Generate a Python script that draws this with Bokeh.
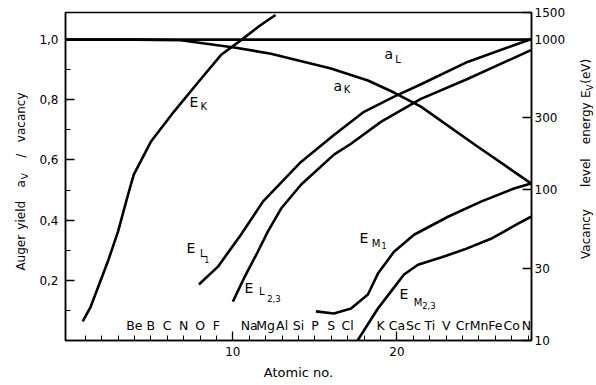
import math
from bokeh.plotting import figure
from bokeh.layouts import row
from bokeh.models import (Range1d, LogScale, LogAxis, FixedTicker, CustomJSTickFormatter,
                          ColumnDataSource)
from bokeh.core.properties import value
from bokeh.embed import file_html
from bokeh.resources import INLINE

FONT = "DejaVu Sans"
INK = "#000000"

# ---- data ----
# K-level energy (eV, right axis) vs atomic number
ek_z = [0.85, 1.34, 2.38, 3.0, 3.66, 3.96, 5.0, 6.4, 8.05, 9.27, 10.5, 11.7, 12.6]
ek_ev = [13.4, 16.8, 33.4, 52.7, 97, 126, 208, 329, 543, 783, 984, 1240, 1443]

# L1 level energy
el1_z = [7.93, 9.09, 10.49, 11.83, 14.15, 16.16, 17.99, 19.8, 21.5, 24.3, 28.2]
el1_ev = [23.5, 30.9, 50.3, 83.4, 153, 231, 329, 413, 503, 705, 1000]

# L2,3 level energy
el23_z = [10.0, 10.67, 11.52, 12.13, 12.93, 14.15, 16.16, 17.2, 19.02, 21.46, 24.3, 28.17]
el23_ev = [18.1, 25.8, 38.8, 52.7, 74.8, 108, 171, 202, 282, 401, 543, 845]

# M1 level energy
em1_z = [15.06, 16.16, 17.2, 18.23, 18.84, 19.82, 21.04, 23.11, 25.12, 27.13, 28.17]
em1_ev = [15.6, 15.1, 16.3, 20.2, 27.8, 38.8, 50.3, 66.2, 83.4, 102, 110]

# M2,3 level energy
em23_z = [17.6, 18.84, 19.63, 20.43, 21.28, 22.68, 24.09, 25.73, 27.38, 28.17]
em23_ev = [10.0, 16.3, 21.1, 27.4, 31.8, 35.5, 40.1, 47.3, 59.6, 66.2]

# Auger yields (left axis)
ak_z = [-0.2, 4.0, 6.83, 10.18, 12.32, 15.98, 18.23, 19.82, 21.46, 24.82, 28.17]
ak_y = [1.0, 1.0, 0.998, 0.973, 0.953, 0.904, 0.864, 0.824, 0.777, 0.648, 0.522]
al_z = [-0.2, 28.2]
al_y = [1.0, 1.0]

# element symbols along the bottom
el_sym = ["Be", "B", "C", "N", "O", "F", "Na", "Mg", "Al", "Si", "P", "S", "Cl",
          "K", "Ca", "Sc", "Ti", "V", "Cr", "Mn", "Fe", "Co", "Ni"]
el_z = [4, 5, 6, 7, 8, 9, 11, 12, 13, 14, 15, 16, 17,
        19, 20, 21, 22, 23, 24, 25, 26, 27, 28]

left_ticks = [0.2, 0.4, 0.6, 0.8, 1.0]
left_minor = [0.1, 0.3, 0.5, 0.7, 0.9]
right_ticks = [10, 30, 100, 300, 1000, 1500]
x_ticks = [10, 20]
x_minor = list(range(1, 29))

# axis-title words (side strips), spaced as in the reference
left_words = ["Auger", "yield", "a", "V", "/", "vacancy"]
right_words = ["Vacancy", "level", "energy", "E", "V", "(eV)"]

# ---- main figure ----
p = figure(width=547, height=385, x_range=Range1d(-0.2, 28.2), y_range=Range1d(0, 1.09),
           output_backend="svg", toolbar_location=None,
           min_border_left=37, min_border_right=44, min_border_top=12, min_border_bottom=45)
p.grid.visible = False
p.outline_line_color = INK
p.outline_line_width = 1.5
p.background_fill_color = "white"
p.border_fill_color = "white"

p.extra_y_ranges = {"E": Range1d(10, 1500)}
p.extra_y_scales = {"E": LogScale()}

def style_axis(ax):
    ax.axis_line_color = INK
    ax.axis_line_width = 1.5
    ax.major_tick_line_color = INK
    ax.minor_tick_line_color = INK
    ax.major_tick_line_width = 1.3
    ax.minor_tick_line_width = 1.0
    ax.major_tick_in = 9
    ax.major_tick_out = 0
    ax.minor_tick_in = 5
    ax.minor_tick_out = 0
    ax.major_label_text_font = FONT
    ax.major_label_text_font_size = "12px"
    ax.major_label_text_color = INK
    ax.axis_label_text_font = FONT
    ax.axis_label_text_font_size = "13px"
    ax.axis_label_text_font_style = "normal"
    ax.axis_label_text_color = INK

xa = p.xaxis[0]
xa.ticker = FixedTicker(ticks=x_ticks, minor_ticks=x_minor)
xa.formatter = CustomJSTickFormatter(code="return tick.toFixed(0)")
xa.axis_label = "Atomic no."
style_axis(xa)
xa.major_label_standoff = 6
xa.axis_label_standoff = 6

ya = p.yaxis[0]
ya.ticker = FixedTicker(ticks=left_ticks, minor_ticks=left_minor)
ya.formatter = CustomJSTickFormatter(code="return tick.toFixed(1).replace('.', ',')")
style_axis(ya)
ya.major_label_standoff = 7

ra = LogAxis(y_range_name="E",
             ticker=FixedTicker(ticks=right_ticks, minor_ticks=[]),
             formatter=CustomJSTickFormatter(code="return tick.toFixed(0)"))
style_axis(ra)
ra.major_label_standoff = 3
p.add_layout(ra, "right")

# ---- curves ----
lw = 2.6
p.line(ek_z, ek_ev, y_range_name="E", line_color=INK, line_width=lw)
p.line(el1_z, el1_ev, y_range_name="E", line_color=INK, line_width=lw)
p.line(el23_z, el23_ev, y_range_name="E", line_color=INK, line_width=lw)
p.line(em1_z, em1_ev, y_range_name="E", line_color=INK, line_width=lw)
p.line(em23_z, em23_ev, y_range_name="E", line_color=INK, line_width=lw)
p.line(ak_z, ak_y, line_color=INK, line_width=lw)
p.line(al_z, al_y, line_color=INK, line_width=lw)

# ---- element symbols ----
src = ColumnDataSource(dict(x=el_z, y=[0.05] * len(el_z), t=el_sym))
p.text(x="x", y="y", text="t", source=src, text_font=value(FONT), text_font_size="12.5px",
       text_align="center", text_baseline="middle", text_color=INK)

# ---- curve labels (main letter, subscript, sub-subscript) ----
lab_t = ["E", "K", "a", "K", "a", "L", "E", "L", "1", "E", "L", "2,3",
         "E", "M", "1", "E", "M", "2,3"]
lab_x = [7.62, 8.23, 16.40, 16.95, 19.51, 20.06, 7.44, 8.17, 8.41, 10.98, 11.77, 12.5,
         17.98, 18.72, 19.21, 20.43, 21.28, 21.95]
lab_y = [0.794, 0.777, 0.847, 0.834, 0.953, 0.934, 0.306, 0.289, 0.269, 0.176, 0.163, 0.140,
         0.339, 0.322, 0.316, 0.156, 0.126, 0.116]
lab_s = ["14px", "10px", "14px", "10px", "14px", "10px", "14px", "10px", "8px", "14px", "10px", "8.5px",
         "14px", "10px", "8px", "14px", "10px", "8.5px"]
lsrc = ColumnDataSource(dict(x=lab_x, y=lab_y, t=lab_t, s=lab_s))
p.text(x="x", y="y", text="t", source=lsrc, text_font=value(FONT), text_font_size="s",
       text_align="center", text_baseline="middle", text_color=INK)

# ---- side strips holding the rotated axis titles (no axes, no borders) ----
def strip(width, words, xs, ys, sizes):
    s = figure(width=width, height=385, x_range=Range1d(0, width), y_range=Range1d(0, 385),
               output_backend="svg", toolbar_location=None,
               x_axis_location=None, y_axis_location=None,
               min_border_left=0, min_border_right=0, min_border_top=0, min_border_bottom=0)
    s.grid.visible = False
    s.outline_line_color = None
    s.background_fill_color = "white"
    s.border_fill_color = "white"
    d = ColumnDataSource(dict(x=xs, y=ys, t=words, s=sizes))
    s.text(x="x", y="y", text="t", source=d, angle=math.pi / 2, text_font=value(FONT),
           text_font_size="s", text_align="center", text_baseline="middle", text_color=INK)
    return s

pl = strip(28, left_words,
           [20, 20, 20, 24, 20, 20],
           [385 - 282, 385 - 238, 385 - 201, 385 - 192, 385 - 168, 385 - 123],
           ["12px", "12px", "12px", "9px", "12px", "12px"])
pr = strip(21, right_words,
           [10, 10, 10, 10, 14, 10],
           [385 - 260, 385 - 188, 385 - 130, 385 - 96, 385 - 88, 385 - 69],
           ["12px", "12px", "12px", "12px", "9px", "12px"])

layout = row(pl, p, pr, spacing=0)
open("out.html", "w").write(file_html(layout, INLINE))
